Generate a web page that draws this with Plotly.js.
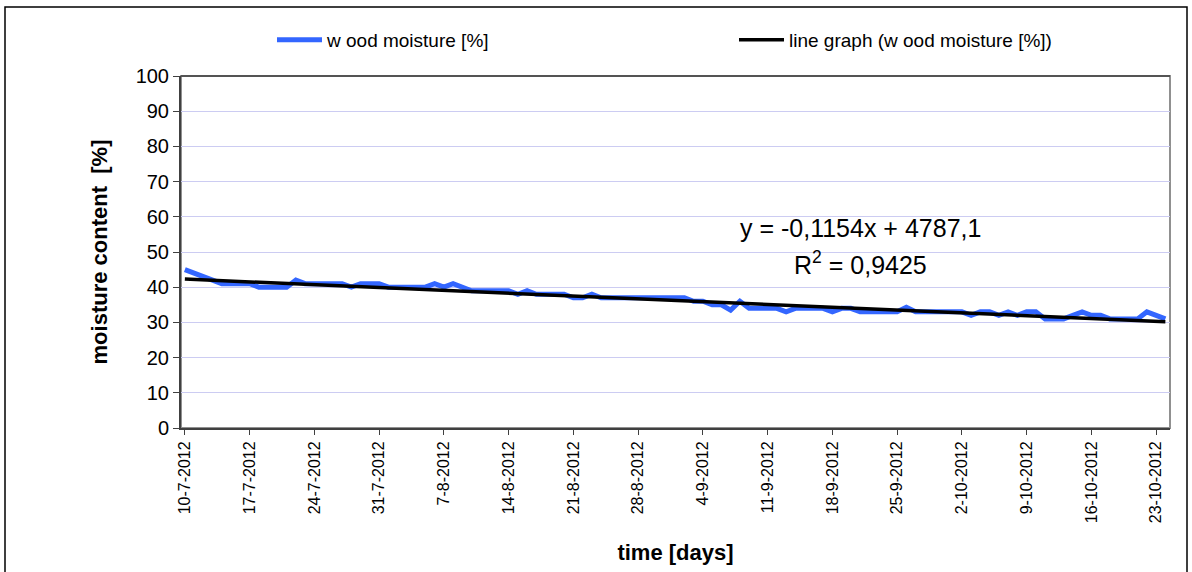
<!DOCTYPE html>
<html>
<head>
<meta charset="utf-8">
<script src="https://cdn.plot.ly/plotly-3.0.1.min.js"></script>
<style>html,body{margin:0;padding:0;background:#fff;}#chart{width:1192px;height:572px;}</style>
</head>
<body>
<div id="chart"></div>
<script>
// Daily wood moisture readings, 10-7-2012 .. 24-10-2012
const startDate = '2012-07-10';
const moisture = [
  45, 44, 43, 42, 41, 41, 41, 41, 40, 40,
  40, 40, 42, 41, 41, 41, 41, 41, 40, 41,
  41, 41, 40, 40, 40, 40, 40, 41, 40, 41,
  40, 39, 39, 39, 39, 39, 38, 39, 38, 38,
  38, 38, 37, 37, 38, 37, 37, 37, 37, 37,
  37, 37, 37, 37, 37, 36, 36, 35, 35, 33.5,
  36, 34, 34, 34, 34, 33, 34, 34, 34, 34,
  33, 34, 34, 33, 33, 33, 33, 33, 34.3, 33,
  33, 33, 33, 33, 33, 32, 33, 33, 32, 33,
  32, 33, 33, 31, 31, 31, 32, 33, 32, 32,
  31, 31, 31, 31, 33, 32, 31
];
// Linear trend end values
const trendStartEnd = [42.3, 30.2];
const seriesNames = ['w ood moisture [%]', 'line graph (w ood moisture [%])'];
const equationText = 'y = -0,1154x + 4787,1';
const r2Text = 'R<sup>2</sup> = 0,9425';

function addDays(s, n) {
  const d = new Date(s + 'T00:00:00Z');
  d.setUTCDate(d.getUTCDate() + n);
  return d.toISOString().slice(0, 10);
}
const dates = moisture.map((_, i) => addDays(startDate, i));
const trendX = [dates[0], dates[dates.length - 1]];

const L = 181, R = 22, T = 76, B = 144, W = 1192, H = 572;
const pw = W - L - R, ph = H - T - B;
const px = x => (x - L) / pw;
const py = y => (H - B - y) / ph;

const traces = [
  {x: dates, y: moisture, type: 'scatter', mode: 'lines', name: seriesNames[0],
   line: {color: '#3366ff', width: 5}, legend: 'legend'},
  {x: trendX, y: trendStartEnd, type: 'scatter', mode: 'lines', name: seriesNames[1],
   line: {color: '#000000', width: 3.5}, legend: 'legend2'}
];

const legendBase = {orientation: 'h', xanchor: 'left', yanchor: 'middle', y: py(40),
  itemwidth: 45, font: {size: 19}, bgcolor: 'rgba(0,0,0,0)'};

const layout = {
  width: W, height: H,
  margin: {l: L, r: R, t: T, b: B},
  paper_bgcolor: '#ffffff', plot_bgcolor: '#ffffff',
  font: {family: 'Liberation Sans, Arial, sans-serif', color: '#000'},
  showlegend: true,
  legend: Object.assign({}, legendBase, {x: px(272)}),
  legend2: Object.assign({}, legendBase, {x: px(734)}),
  xaxis: {
    type: 'date', range: ['2012-07-09T14:00', '2012-10-24T12:00'],
    tick0: startDate, dtick: 7 * 86400000, tickformat: '%-d-%-m-%Y', tickangle: -90,
    tickfont: {size: 16}, ticks: 'outside', ticklen: 5, tickcolor: '#404040',
    showline: true, linecolor: '#404040', linewidth: 2, showgrid: false, zeroline: false,
    title: {text: '<b>time [days]</b>', font: {size: 22}, standoff: 22}
  },
  yaxis: {
    range: [0, 100], dtick: 10, tickfont: {size: 20}, ticks: 'outside', ticklen: 6,
    tickcolor: '#404040', showline: true, linecolor: '#404040', linewidth: 2,
    showgrid: true, gridcolor: '#ccccf2', gridwidth: 1, zeroline: false,
    title: {text: '<b>moisture content  [%]</b>', font: {size: 22}, standoff: 22}
  },
  shapes: [
    {type: 'rect', xref: 'paper', yref: 'paper', x0: 0, x1: 1, y0: 0, y1: 1,
     line: {color: '#909090', width: 2}, layer: 'below'},
    {type: 'line', xref: 'paper', yref: 'paper', x0: 0, x1: 1, y0: 1, y1: 1,
     line: {color: '#404040', width: 1.5}},
    {type: 'rect', xref: 'paper', yref: 'paper', x0: px(5), x1: px(1187), y0: py(7), y1: py(580),
     line: {color: '#000000', width: 1.5}}
  ],
  annotations: [
    {xref: 'paper', yref: 'paper', x: px(860), y: py(228), text: equationText, showarrow: false,
     font: {size: 25}, xanchor: 'center', yanchor: 'middle'},
    {xref: 'paper', yref: 'paper', x: px(860), y: py(263), text: r2Text, showarrow: false,
     font: {size: 25}, xanchor: 'center', yanchor: 'middle'}
  ]
};

Plotly.newPlot('chart', traces, layout, {displayModeBar: false, staticPlot: true});
</script>
</body>
</html>
